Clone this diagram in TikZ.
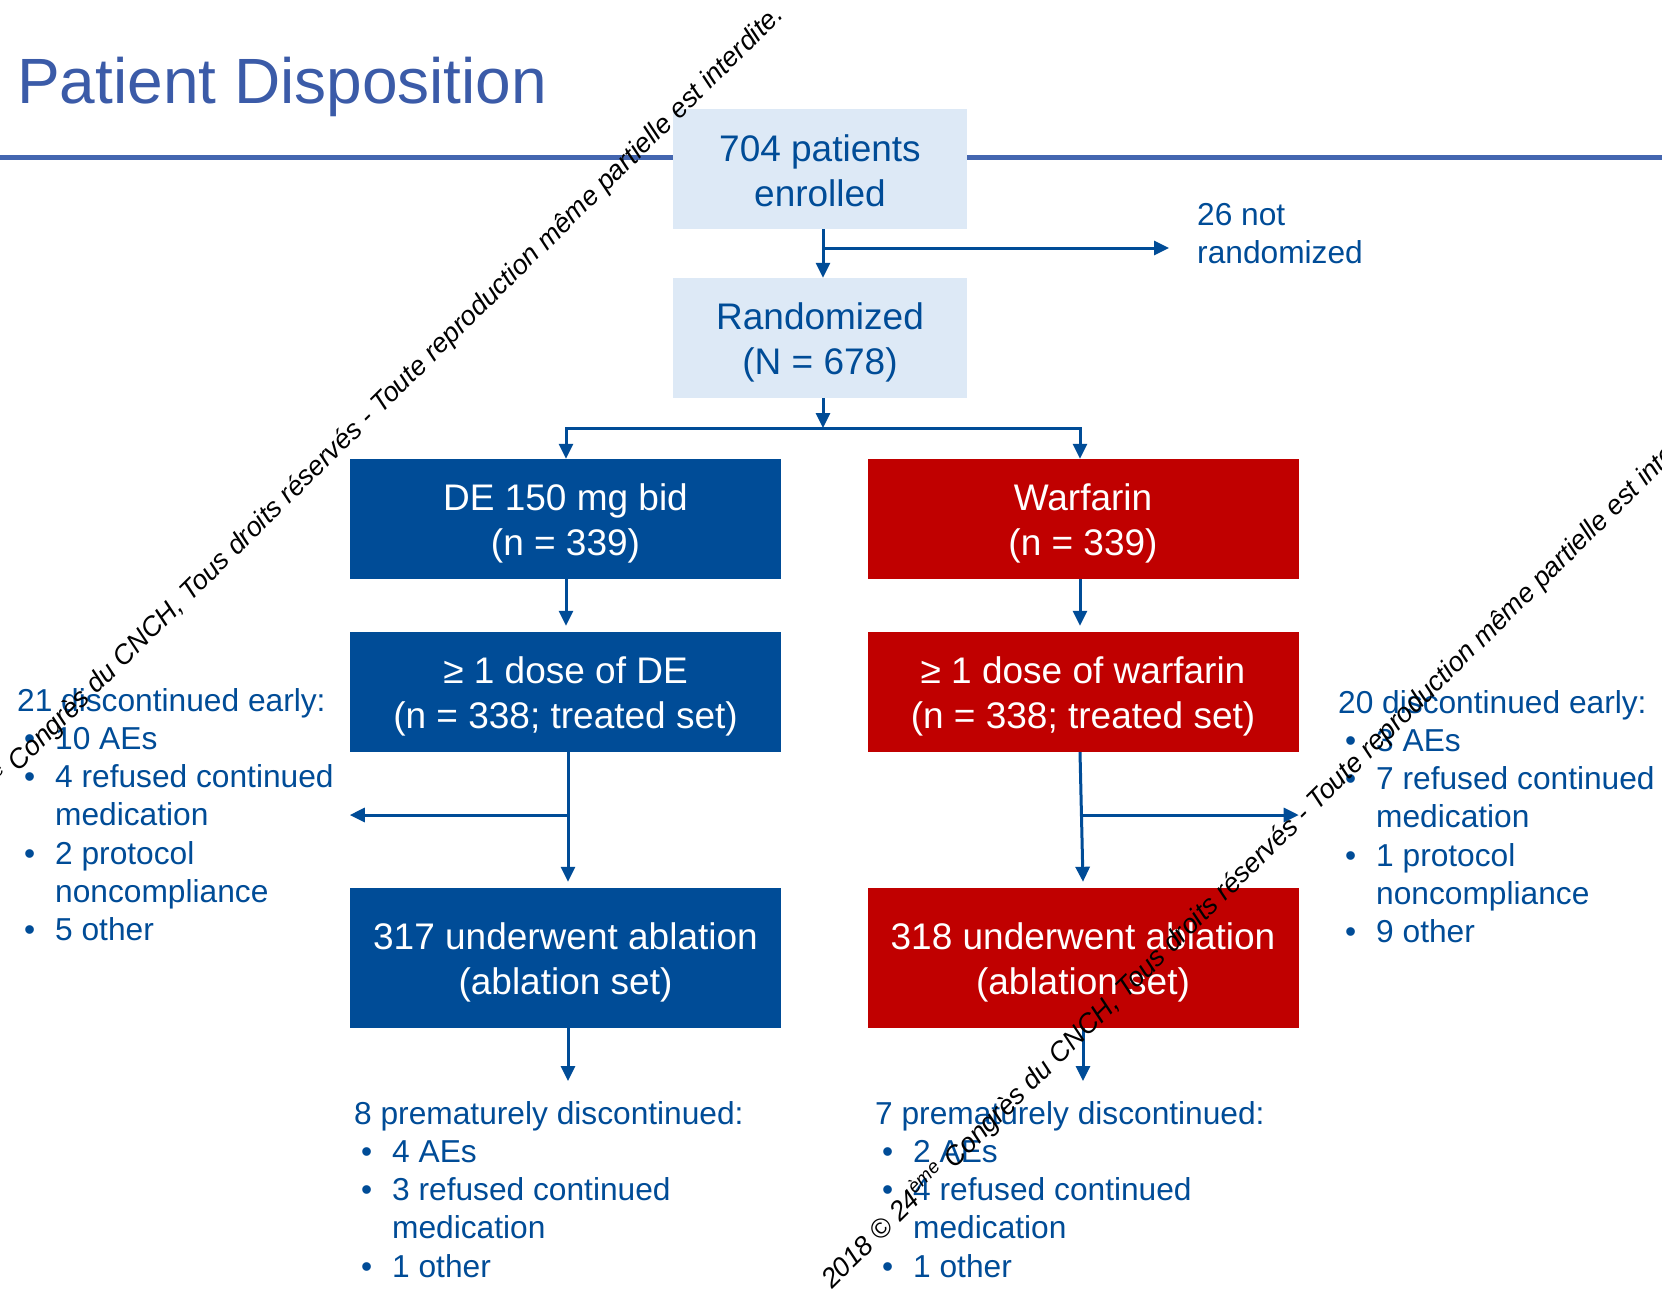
\documentclass[tikz,border=0pt]{standalone}
\usepackage{fontspec}
\setmainfont{Liberation Sans}
\usepackage{graphicx}
\usetikzlibrary{arrows.meta}
\definecolor{dblue}{RGB}{0,76,151}
\definecolor{tblue}{RGB}{59,91,168}
\definecolor{hblue}{RGB}{68,102,176}
\definecolor{lblue}{RGB}{221,233,246}
\definecolor{dred}{RGB}{192,0,0}
\newcommand\blt{\makebox[38pt][l]{\hspace{7pt}\textbullet}}
\newcommand\ind{\hspace*{38pt}}
\newcommand\strt{\rule{0pt}{36pt}}
\newcommand\strtb{\rule{0pt}{30pt}}
\newcommand\wmtext{\itshape 2018 © 24\textsuperscript{ème} Congrès du CNCH, Tous droits réservés - Toute reproduction même partielle est interdite.}
\begin{document}
\begin{tikzpicture}[x=1pt,y=-1pt,
  lbox/.style={fill=lblue, text=dblue, minimum width=294pt, minimum height=120pt, inner sep=0pt, align=center, font=\fontsize{37}{45.5}\selectfont},
  bbox/.style={fill=dblue, text=white, minimum width=431pt, minimum height=120pt, inner sep=0pt, align=center, font=\fontsize{37}{45.5}\selectfont},
  rbox/.style={bbox, fill=dred},
  arr/.style={draw=dblue, line width=3pt, -{Triangle[length=15pt,width=14pt]}},
  lst/.style={text=dblue, inner sep=0pt, anchor=north west, font=\fontsize{31.7}{38.3}\selectfont},
  wm/.style={inner sep=0pt, anchor=base west, rotate=44.6, text=black}
]
\clip (0,0) rectangle (1662,1290);
\fill[white] (0,0) rectangle (1662,1290);
\node[anchor=base west, text=tblue, font=\fontsize{64}{76}\selectfont, inner sep=0pt] (title) at (17,103) {Patient Disposition};
\coordinate (hl) at (0,157);
\coordinate (hr) at (1662,157);
\draw[hblue, line width=5pt] (hl) -- (hr);

\node[lbox] (b1) at (820,169) {\strtb 704 patients\\enrolled};
\node[lbox] (b2) at (820,338) {\strt Randomized\\(N = 678)};
\node[bbox] (de) at (565.5,519) {\strt DE 150 mg bid\\(n = 339)};
\node[rbox] (wa) at (1083,519) {\strt Warfarin\\(n = 339)};
\node[bbox] (dd) at (565.5,692) {\strt ≥ 1 dose of DE\\(n = 338; treated set)};
\node[rbox] (wd) at (1083,692) {\strt ≥ 1 dose of warfarin\\(n = 338; treated set)};
\node[bbox, minimum height=140pt] (ab) at (565.5,958) {\strt 317 underwent ablation\\(ablation set)};
\node[rbox, minimum height=140pt] (wb) at (1083,958) {\strt 318 underwent ablation\\(ablation set)};

\node[lst] (nr) at (1197,198) {\begin{tabular}{@{}l@{}}26 not\\randomized\end{tabular}};
\node[lst] (left) at (17,684) {\begin{tabular}{@{}l@{}}21 discontinued early:\\ \blt 10 AEs\\ \blt 4 refused continued\\ \ind medication\\ \blt 2 protocol\\ \ind noncompliance\\ \blt 5 other\end{tabular}};
\node[lst] (right) at (1338,686) {\begin{tabular}{@{}l@{}}20 discontinued early:\\ \blt 3 AEs\\ \blt 7 refused continued\\ \ind medication\\ \blt 1 protocol\\ \ind noncompliance\\ \blt 9 other\end{tabular}};
\node[lst] (bl) at (354,1097) {\begin{tabular}{@{}l@{}}8 prematurely discontinued:\\ \blt 4 AEs\\ \blt 3 refused continued\\ \ind medication\\ \blt 1 other\end{tabular}};
\node[lst] (br) at (875,1097) {\begin{tabular}{@{}l@{}}7 prematurely discontinued:\\ \blt 2 AEs\\ \blt 4 refused continued\\ \ind medication\\ \blt 1 other\end{tabular}};

% connectors
\coordinate (c1) at (823,0);
\coordinate (j1) at (823,248);
\coordinate (nrp) at (1169,248);
\draw[arr] (b1.south -| c1) -- (b2.north -| c1);
\draw[arr] (j1) -- (nrp);
\coordinate (j2) at (823,428);
\coordinate (cl) at (566,0);
\coordinate (cr) at (1080,0);
\draw[arr] (b2.south -| c1) -- (j2);
\draw[arr] (j2) -| (de.north -| cl);
\draw[arr] (j2) -| (wa.north -| cr);
\draw[arr] (de.south -| cl) -- ([yshift=6pt]dd.north -| cl);
\draw[arr] (wa.south -| cr) -- ([yshift=6pt]wd.north -| cr);
\coordinate (jl) at (568,815);
\coordinate (jr) at (1082,815);
\draw[arr] (dd.south -| jl) -- ([yshift=6pt]ab.north -| jl);
\draw[arr] (wd.south -| cr) -- ([yshift=6pt]wb.north);
\draw[arr] (jl) -- (jl -| dd.west);
\draw[arr] (jr) -- (jr -| wd.east);
\coordinate (lt) at (568,1081);
\coordinate (rt) at (1083,1081);
\draw[arr] (ab.south -| lt) -- (lt);
\draw[arr] (wb.south) -- (rt);

% watermark
\node[wm] (wm1) at (-104,893) {\resizebox{1248pt}{!}{\wmtext}};
\node[wm] (wm2) at (832,1290) {\resizebox{1248pt}{!}{\wmtext}};
\end{tikzpicture}
\end{document}
